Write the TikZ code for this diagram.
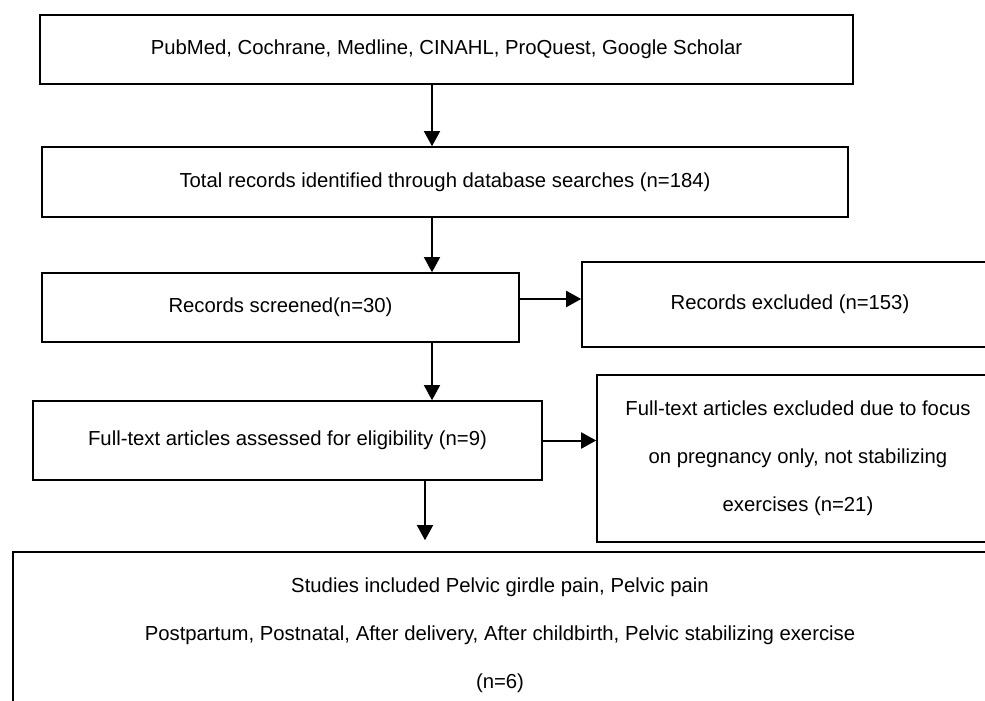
\documentclass[tikz,border=0pt]{standalone}
\usepackage{fontspec}
\setmainfont{Liberation Sans}
\usepackage[dvipsnames]{xcolor}
\usetikzlibrary{positioning}
\usetikzlibrary{calc}
\usetikzlibrary{arrows.meta}

\tikzset{
	flowbox/.style={
		draw,
		fill=White,
		line width=1.6pt,
		inner sep=0pt,
		align=center,
		font=\fontsize{20.3}{48}\selectfont
	},
	flowarrow/.style={
		line width=1.5pt,
		-{Triangle[width=16pt,length=15pt]}
	}
}

\begin{document}
\begin{tikzpicture}[x=1pt, y=-1pt]

	\useasboundingbox (0,0) rectangle (985,701);
	\clip (0,0) rectangle (985,701);

	\node[
		flowbox,
		minimum width=813pt,
		minimum height=69pt
	] (databases) at (446.5,49.5) {PubMed, Cochrane, Medline, CINAHL, ProQuest, Google Scholar};

	\node[
		flowbox,
		minimum width=806pt,
		minimum height=70pt
	] (identified) at (445,182) {Total records identified through database searches (n=184)};

	\node[
		flowbox,
		minimum width=477pt,
		minimum height=69pt
	] (screened) at (280.5,307.5) {Records screened(n=30)};

	\node[
		flowbox,
		minimum width=416pt,
		minimum height=85pt
	] (excluded) at (790,304.5) {Records excluded (n=153)};

	\node[
		flowbox,
		minimum width=509pt,
		minimum height=79pt
	] (fulltext) at (287.5,440.5) {Full-text articles assessed for eligibility (n=9)};

	\node[
		flowbox,
		minimum width=402pt,
		minimum height=167pt
	] (fulltextExcluded) at (798,458.5) {Full-text articles excluded due to focus\\on pregnancy only, not stabilizing\\exercises (n=21)};

	\node[
		flowbox,
		minimum width=974pt,
		minimum height=166pt
	] (included) at (500,635) {Studies included Pelvic girdle pain, Pelvic pain\\Postpartum, Postnatal, After delivery, After childbirth, Pelvic stabilizing exercise\\(n=6)};

	\coordinate (mainAxis) at (432,0);
	\coordinate (lastAxis) at (425,0);
	\coordinate (screenedOut) at (0,299);

	\draw[flowarrow] (databases.south -| mainAxis) -- (identified.north -| mainAxis);

	\draw[flowarrow] (identified.south -| mainAxis) -- (screened.north -| mainAxis);

	\draw[flowarrow, line width=2pt] (screened.east |- screenedOut) -- (excluded.west |- screenedOut);

	\draw[flowarrow] (screened.south -| mainAxis) -- (fulltext.north -| mainAxis);

	\draw[flowarrow, line width=2pt] (fulltext.east) -- (fulltext.east -| fulltextExcluded.west);

	\draw[flowarrow, shorten >=11pt] (fulltext.south -| lastAxis) -- (included.north -| lastAxis);

\end{tikzpicture}
\end{document}
